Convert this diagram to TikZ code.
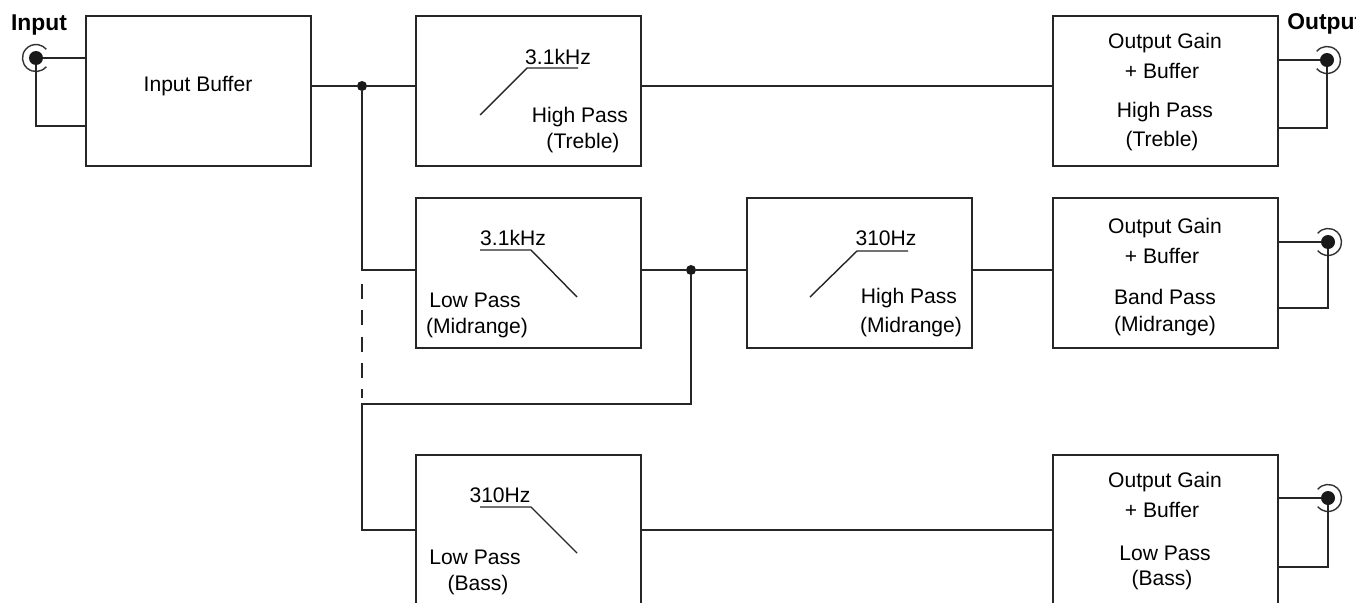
\documentclass[tikz,border=0pt]{standalone}
\usepackage{fontspec}
\setmainfont{Liberation Sans}
\usetikzlibrary{positioning,calc}
\tikzset{
  xbox/.style={draw=black!85, line width=1.1pt, minimum width=4.5cm,
               minimum height=3cm, inner sep=0pt},
  xtxt/.style={font=\fontsize{12}{14}\selectfont, inner sep=0pt},
  xhead/.style={font=\fontsize{13}{15}\selectfont\bfseries, inner sep=0pt},
  xwire/.style={draw=black!85, line width=1.1pt},
  xslope/.style={draw=black!85, line width=0.8pt},
  xring/.style={draw=black!80, line width=0.8pt},
  xdot/.style={circle, fill=black!90, inner sep=0pt, minimum size=0.2cm},
  xjack/.style={circle, fill=black!90, inner sep=0pt, minimum size=0.28cm},
}

\begin{document}
\begin{tikzpicture}[x=0.02cm, y=-0.02cm]
  \useasboundingbox (0,0) rectangle (1356,602);
  % blocks
  \node[xbox] (IB) at (198.5,91) {};
  \node[xbox] (HPT) at (528.5,91) {};
  \node[xbox] (OUT1) at (1165.5,91) {};
  \node[xbox] (LPM) at (528.5,273) {};
  \node[xbox] (HPM) at (859.5,273) {};
  \node[xbox] (OUT2) at (1165.5,273) {};
  \node[xbox] (LPB) at (528.5,530) {};
  \node[xbox] (OUT3) at (1165.5,530) {};
  % block texts
  \node[xtxt] (ibt) at (198,86) {Input Buffer};
  \node[xtxt] (hptf) at (558,57) {3.1kHz};
  \node[xtxt] (hpta) at (580,117) {High Pass};
  \node[xtxt] (hptb) at (583,143) {(Treble)};
  \node[xtxt] (lpmf) at (513,238) {3.1kHz};
  \node[xtxt] (lpma) at (475,300) {Low Pass};
  \node[xtxt] (lpmb) at (477,328) {(Midrange)};
  \node[xtxt] (hpmf) at (886,238) {310Hz};
  \node[xtxt] (hpma) at (909,298) {High Pass};
  \node[xtxt] (hpmb) at (911,327) {(Midrange)};
  \node[xtxt] (lpbf) at (500,495) {310Hz};
  \node[xtxt] (lpba) at (475,557) {Low Pass};
  \node[xtxt] (lpbb) at (478,585) {(Bass)};
  \node[xtxt] (o1a) at (1165,43) {Output Gain};
  \node[xtxt] (o1b) at (1162,71) {+ Buffer};
  \node[xtxt] (o1c) at (1165,112) {High Pass};
  \node[xtxt] (o1d) at (1162,141) {(Treble)};
  \node[xtxt] (o2a) at (1165,228) {Output Gain};
  \node[xtxt] (o2b) at (1162,256) {+ Buffer};
  \node[xtxt] (o2c) at (1165,297) {Band Pass};
  \node[xtxt] (o2d) at (1165,326) {(Midrange)};
  \node[xtxt] (o3a) at (1165,482) {Output Gain};
  \node[xtxt] (o3b) at (1162,510) {+ Buffer};
  \node[xtxt] (o3c) at (1165,553) {Low Pass};
  \node[xtxt] (o3d) at (1162,580) {(Bass)};
  % filter slopes
  \draw[xslope] (480,115) -- (527,68) -- (578,68);
  \draw[xslope] (480,250) -- (531,250) -- (577,297);
  \draw[xslope] (810,297) -- (857,251) -- (908,251);
  \draw[xslope] (480,507) -- (531,507) -- (577,553);
  % jacks
  \node[xhead] (inlab) at (39,25) {Input};
  \node[xhead, anchor=west] (outlab) at (1287,24) {Output};
  \node[xjack] (JIN) at (36,58) {};
  \node[xjack] (JO1) at (1327,60) {};
  \node[xjack] (JO2) at (1328,242) {};
  \node[xjack] (JO3) at (1328,498) {};
  \draw[xring] (JIN.center) ++(40:13.5) arc[start angle=40, end angle=320, radius=13.5];
  \foreach \j in {JO1,JO2,JO3}
    \draw[xring] (\j.center) ++(220:13.5) arc[start angle=220, end angle=500, radius=13.5];
  % wiring
  \node[xdot] (j1) at (362,86) {};
  \node[xdot] (j2) at (691,270) {};
  \coordinate (tap) at (362,404);
  \draw[xwire] (JIN) -- (JIN -| IB.west);
  \draw[xwire] (JIN) |- ([yshift=-0.7cm]IB.west);
  \draw[xwire] (IB.east |- j1) -- (j1) -- (HPT.west |- j1);
  \draw[xwire] (HPT.east |- j1) -- (OUT1.west |- j1);
  \draw[xwire] (j1) |- (LPM.west |- j2);
  \draw[xwire] (LPM.east |- j2) -- (j2) -- (HPM.west |- j2);
  \draw[xwire] (HPM.east |- j2) -- (OUT2.west |- j2);
  \draw[xwire] (j2) |- (tap) |- (LPB.west);
  \draw[xwire] (LPB.east) -- (OUT3.west);
  \draw[xwire, dash pattern=on 8.5pt off 6.5pt] ($(j1 |- j2)+(0,14)$) -- ($(tap)+(0,-6)$);
  \draw[xwire] (OUT1.east |- JO1) -- (JO1);
  \draw[xwire] (JO1) |- ([yshift=-0.74cm]OUT1.east);
  \draw[xwire] (OUT2.east |- JO2) -- (JO2);
  \draw[xwire] (JO2) |- ([yshift=-0.7cm]OUT2.east);
  \draw[xwire] (OUT3.east |- JO3) -- (JO3);
  \draw[xwire] (JO3) |- ([yshift=-0.74cm]OUT3.east);
\end{tikzpicture}
\end{document}
